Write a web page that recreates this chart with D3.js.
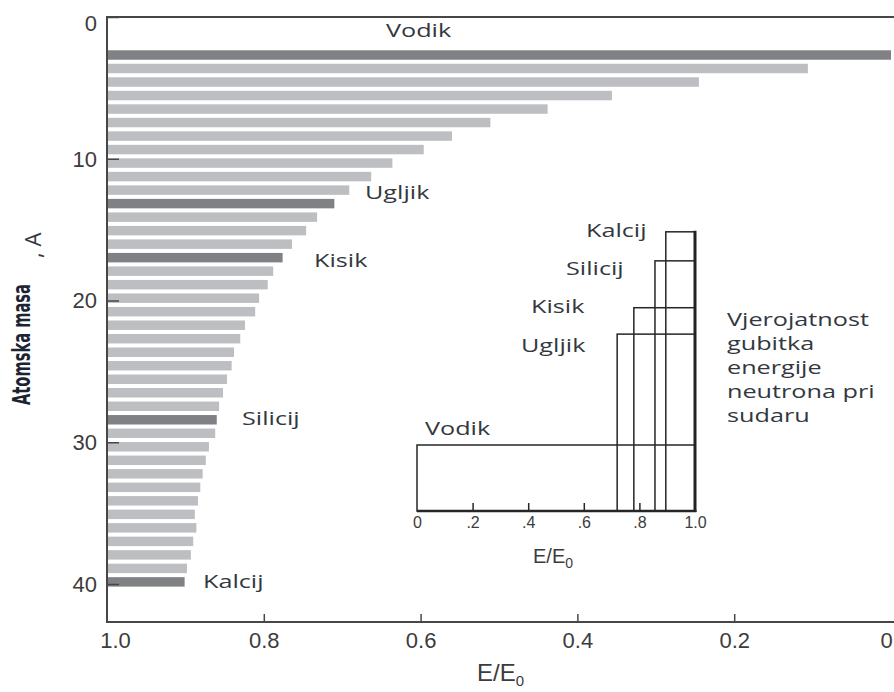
<!DOCTYPE html>
<html>
<head>
<meta charset="utf-8">
<script src="https://cdn.jsdelivr.net/npm/d3@7"></script>
<style>
  html, body { margin: 0; padding: 0; background: #fff; }
  svg { display: block; }
</style>
</head>
<body>
<script>
// atomic mass of each bar
const masses = [1, 2, 3, 4, 5, 6, 7, 8, 9, 10, 11, 12, 13, 14, 15, 16, 17, 18, 19, 20,
                21, 22, 23, 24, 25, 26, 27, 28, 29, 30, 31, 32, 33, 34, 35, 36, 37, 38, 39, 40];
// minimum E/E0 after one collision
const minEnergy = [0.000, 0.106, 0.245, 0.356, 0.438, 0.511, 0.560, 0.596, 0.636, 0.663,
                   0.691, 0.710, 0.732, 0.746, 0.764, 0.776, 0.788, 0.795, 0.806, 0.811,
                   0.824, 0.830, 0.838, 0.841, 0.847, 0.852, 0.857, 0.860, 0.862, 0.870,
                   0.874, 0.878, 0.881, 0.884, 0.888, 0.886, 0.890, 0.893, 0.898, 0.901];
const highlighted = [1, 12, 16, 28, 40];

const xTicks = [1.0, 0.8, 0.6, 0.4, 0.2, 0];
const xTickLabels = ["1.0", "0.8", "0.6", "0.4", "0.2", "0"];
const yTicks = [0, 10, 20, 30, 40];

// inset: energy loss probability per element
const insetNames = ["Vodik", "Ugljik", "Kisik", "Silicij", "Kalcij"];
const insetAlpha = [0, 0.72, 0.78, 0.856, 0.895];
const insetHeight = [1.0, 2.68, 3.08, 3.79, 4.23];
const insetTicks = [0, 0.2, 0.4, 0.6, 0.8, 1.0];
const insetTickLabels = ["0", ".2", ".4", ".6", ".8", "1.0"];

const legendLines = ["Vjerojatnost", "gubitka", "energije", "neutrona pri", "sudaru"];

const W = 894, H = 692;
const axisColor = "#474747";
const labelColor = "#33383f";
const numFont = "'Liberation Sans', Arial, sans-serif";
const textFont = "'Open Sans', 'Noto Sans', sans-serif";
const stretch = 1.4; // the picture is wider than the font

const svg = d3.select("body").append("svg")
    .attr("width", W)
    .attr("height", H);

// scales
const x = d3.scaleLinear().domain([1, 0]).range([107, 891]);
const yBar = d3.scaleBand().domain(masses).range([48.25, 588.65])
    .paddingInner(0.3).paddingOuter(0.15);
const yAxisScale = d3.scaleLinear().domain([0, 40]).range([17, 584]);

// bars
svg.append("g").selectAll("rect")
    .data(masses)
    .join("rect")
    .attr("x", x(1))
    .attr("y", d => yBar(d))
    .attr("width", (d, i) => x(minEnergy[i]) - x(1))
    .attr("height", yBar.bandwidth())
    .attr("fill", d => highlighted.includes(d) ? "#808185" : "#bdbec2");

// frame lines
svg.append("line").attr("x1", 107).attr("x2", W).attr("y1", 17).attr("y2", 17)
    .attr("stroke", axisColor).attr("stroke-width", 2);
svg.append("line").attr("x1", 107).attr("x2", W).attr("y1", 622).attr("y2", 622)
    .attr("stroke", axisColor).attr("stroke-width", 2);
svg.append("line").attr("x1", 107).attr("x2", 107).attr("y1", 16).attr("y2", 623)
    .attr("stroke", axisColor).attr("stroke-width", 2);

// left axis
const yAxis = svg.append("g")
    .attr("transform", "translate(107,0)")
    .call(d3.axisLeft(yAxisScale).tickValues(yTicks).tickSize(-12).tickPadding(10));
yAxis.select(".domain").remove();
yAxis.selectAll(".tick line").attr("stroke", axisColor).attr("stroke-width", 1.5);
yAxis.selectAll(".tick text")
    .attr("fill", "#3c3c3c")
    .style("font-family", numFont)
    .style("font-size", "22px")
    .attr("dy", (d) => d === 0 ? "0.62em" : "0.34em");

// bottom axis
const xAxis = svg.append("g")
    .attr("transform", "translate(0,622)")
    .call(d3.axisBottom(x).tickValues(xTicks).tickSize(-8).tickPadding(10)
        .tickFormat((d, i) => xTickLabels[i]));
xAxis.select(".domain").remove();
xAxis.selectAll(".tick line").attr("stroke", axisColor).attr("stroke-width", 1.5)
    .attr("display", d => (d === 1 || d === 0) ? "none" : null);
xAxis.selectAll(".tick text")
    .attr("fill", "#3c3c3c")
    .style("font-family", numFont)
    .style("font-size", "22px")
    .attr("dx", d => d === 1 ? 8 : (d === 0 ? -5 : 0));

// axis titles
const xt = svg.append("text")
    .attr("x", 477).attr("y", 681)
    .attr("fill", "#3c3c3c")
    .style("font-family", numFont)
    .style("font-size", "24px");
xt.append("tspan").text("E/E");
xt.append("tspan").attr("dy", 5).style("font-size", "15px").text("0");

svg.append("text")
    .attr("transform", "translate(30,405) rotate(-90)")
    .attr("fill", "#1c2433")
    .attr("textLength", 121)
    .attr("lengthAdjust", "spacingAndGlyphs")
    .style("font-family", "'Liberation Sans Narrow', 'DejaVu Sans Condensed', sans-serif")
    .style("font-weight", "bold")
    .style("font-size", "24px")
    .text("Atomska masa");
svg.append("text")
    .attr("transform", "translate(41,258) rotate(-90)")
    .attr("fill", labelColor)
    .style("font-family", textFont)
    .style("font-size", "22px")
    .text(", A");

// stretched label text
function label(txt, px, py, size) {
    const t = svg.append("text")
        .attr("x", px).attr("y", py)
        .attr("fill", labelColor)
        .style("font-family", textFont)
        .style("font-size", (size || 18) + "px")
        .text(txt);
    const w = t.node().getComputedTextLength();
    t.attr("textLength", w * stretch).attr("lengthAdjust", "spacingAndGlyphs");
    return t;
}

// element labels next to the highlighted bars
label("Vodik", 386, 37);
label("Ugljik", 365, 199);
label("Kisik", 314, 267);
label("Silicij", 242, 425);
label("Kalcij", 203, 588);

// inset
const xi = d3.scaleLinear().domain([0, 1]).range([417, 695]);
const yi = d3.scaleLinear().domain([0, 4]).range([511, 247]);

svg.append("g").selectAll("rect")
    .data(insetNames)
    .join("rect")
    .attr("x", (d, i) => xi(insetAlpha[i]))
    .attr("y", (d, i) => yi(insetHeight[i]))
    .attr("width", (d, i) => xi(1) - xi(insetAlpha[i]))
    .attr("height", (d, i) => yi(0) - yi(insetHeight[i]))
    .attr("fill", "none")
    .attr("stroke", "#262626")
    .attr("stroke-width", 1.5);

svg.append("line")
    .attr("x1", xi(1)).attr("x2", xi(1))
    .attr("y1", yi(d3.max(insetHeight)) - 1).attr("y2", yi(0) + 1)
    .attr("stroke", "#222").attr("stroke-width", 3);

const insetAxis = svg.append("g")
    .attr("transform", `translate(0,${yi(0)})`)
    .call(d3.axisBottom(xi).tickValues(insetTicks).tickSize(-8).tickPadding(6)
        .tickFormat((d, i) => insetTickLabels[i]));
insetAxis.select(".domain").remove();
insetAxis.selectAll(".tick line").attr("stroke", "#262626").attr("stroke-width", 1.5)
    .attr("display", d => (d === 0 || d === 1) ? "none" : null);
insetAxis.selectAll(".tick text")
    .attr("fill", "#3c3c3c")
    .style("font-family", numFont)
    .style("font-size", "16px");
svg.append("line")
    .attr("x1", xi(0)).attr("x2", xi(1) + 1.5)
    .attr("y1", yi(0)).attr("y2", yi(0))
    .attr("stroke", "#262626").attr("stroke-width", 2.5);

const it = svg.append("text")
    .attr("x", 533).attr("y", 563)
    .attr("fill", "#3c3c3c")
    .style("font-family", numFont)
    .style("font-size", "20px");
it.append("tspan").text("E/E");
it.append("tspan").attr("dy", 5).style("font-size", "14px").text("0");

label("Kalcij", 586, 237);
label("Silicij", 566, 275);
label("Kisik", 531, 313);
label("Ugljik", 521, 352);
label("Vodik", 425, 435);

// legend text
legendLines.forEach((line, i) => {
    label(line, 727, 326 + i * 24);
});
</script>
</body>
</html>
